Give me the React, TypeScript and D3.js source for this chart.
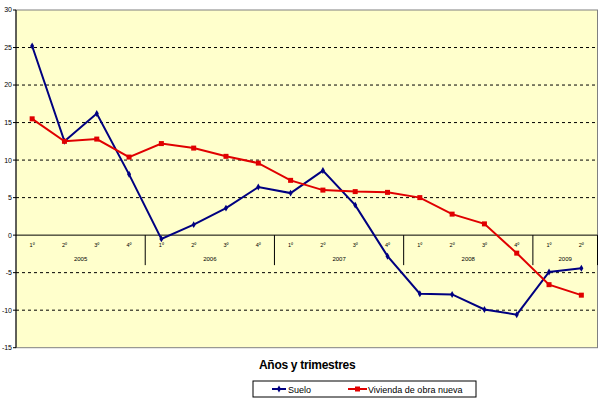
import * as d3 from "d3";

const years = ["2005", "2006", "2007", "2008", "2009"];
const quartersPerYear = [4, 4, 4, 4, 2];
const quarterLabels = ["1º", "2º", "3º", "4º"];

const suelo = [
  25.2, 12.5, 16.2, 8.1, -0.5, 1.4, 3.6, 6.4, 5.6, 8.6, 4.0, -2.8, -7.8, -7.9,
  -9.9, -10.6, -4.9, -4.4,
];
const vivienda = [
  15.5, 12.5, 12.8, 10.4, 12.2, 11.6, 10.5, 9.6, 7.3, 6.0, 5.8, 5.7, 5.0, 2.8,
  1.5, -2.4, -6.6, -8.0,
];
const yTicks = [-15, -10, -5, 0, 5, 10, 15, 20, 25, 30];

const W = 603;
const H = 403;
const plot = { left: 16, right: 597.5, top: 10, bottom: 347.7 };
const font = "Arial, 'Liberation Sans', sans-serif";

// category index -> year / quarter
const cats: { year: string; q: string }[] = [];
years.forEach((y, i) => {
  for (let k = 0; k < quartersPerYear[i]; k++) cats.push({ year: y, q: quarterLabels[k] });
});

export default function App() {
  const x = d3
    .scaleBand<number>()
    .domain(cats.map((_, i) => i))
    .range([plot.left, plot.right]);
  const y = d3.scaleLinear().domain([-15, 30]).range([plot.bottom, plot.top]);
  const cx = (i: number) => (x(i) || 0) + x.bandwidth() / 2;

  const line = d3
    .line<number>()
    .x((_, i) => cx(i))
    .y((d) => y(d));

  const y0 = y(0);

  // year group boundaries
  const bounds: number[] = [];
  let acc = 0;
  const yearCenters: { year: string; x: number }[] = [];
  years.forEach((yr, i) => {
    const start = acc;
    acc += quartersPerYear[i];
    const xs = x(start) || 0;
    const xe = (x(acc - 1) || 0) + x.bandwidth();
    yearCenters.push({ year: yr, x: (xs + xe) / 2 });
    bounds.push(xe);
  });

  return (
    <svg
      width={W}
      height={H}
      style={{ position: "absolute", left: 0, top: 0, background: "#ffffff" }}
      fontFamily={font}
    >
      <rect
        x={plot.left}
        y={plot.top}
        width={plot.right - plot.left}
        height={plot.bottom - plot.top}
        fill="#FFFFCC"
        stroke="#808080"
        strokeWidth={1}
      />
      {/* dashed grid */}
      {yTicks
        .filter((t) => t !== 0 && t !== 30 && t !== -15)
        .map((t) => (
          <line
            key={t}
            x1={plot.left}
            x2={plot.right}
            y1={y(t)}
            y2={y(t)}
            stroke="#000"
            strokeWidth={1}
            strokeDasharray="3,3"
          />
        ))}
      {/* y axis */}
      <line x1={plot.left} x2={plot.left} y1={plot.top} y2={plot.bottom} stroke="#000" />
      {yTicks.map((t) => (
        <g key={t}>
          <line x1={plot.left - 3} x2={plot.left} y1={y(t)} y2={y(t)} stroke="#000" />
          <text x={plot.left - 4} y={y(t)} dy="0.35em" textAnchor="end" fontSize={7} fill="#000">
            {t}
          </text>
        </g>
      ))}
      {/* x axis at 0 */}
      <line x1={plot.left} x2={plot.right} y1={y0} y2={y0} stroke="#000" />
      {bounds.map((b, i) => (
        <line key={i} x1={b} x2={b} y1={y0} y2={y0 + 30} stroke="#000" />
      ))}
      {cats.map((c, i) => (
        <text key={i} x={cx(i)} y={y0 + 12} textAnchor="middle" fontSize={5.5} fill="#000">
          {c.q}
        </text>
      ))}
      {yearCenters.map((c) => (
        <text key={c.year} x={c.x} y={y0 + 26} textAnchor="middle" fontSize={6} fill="#000">
          {c.year}
        </text>
      ))}
      {/* series */}
      <path d={line(suelo) || ""} fill="none" stroke="#000080" strokeWidth={2} />
      {suelo.map((v, i) => (
        <path
          key={i}
          d={d3.symbol(d3.symbolDiamond, 14)() || ""}
          transform={`translate(${cx(i)},${y(v)})`}
          fill="#000080"
        />
      ))}
      <path d={line(vivienda) || ""} fill="none" stroke="#E00000" strokeWidth={2} />
      {vivienda.map((v, i) => (
        <rect key={i} x={cx(i) - 2.5} y={y(v) - 2.5} width={5} height={5} fill="#E00000" />
      ))}
      {/* axis title */}
      <text x={259} y={369} fontSize={12} fontWeight="bold" fill="#000" letterSpacing={-0.3}>
        Años y trimestres
      </text>
      {/* legend */}
      <rect x={253} y={381} width={223} height={16} fill="#fff" stroke="#000" />
      <line x1={272} x2={286} y1={389} y2={389} stroke="#000080" strokeWidth={2} />
      <path
        d={d3.symbol(d3.symbolDiamond, 14)() || ""}
        transform="translate(279,389)"
        fill="#000080"
      />
      <text x={288} y={392.5} fontSize={9} fill="#000">
        Suelo
      </text>
      <line x1={348} x2={367} y1={389} y2={389} stroke="#E00000" strokeWidth={2} />
      <rect x={355} y={386.5} width={5} height={5} fill="#E00000" />
      <text x={368} y={392.5} fontSize={9} fill="#000">
        Vivienda de obra nueva
      </text>
    </svg>
  );
}
